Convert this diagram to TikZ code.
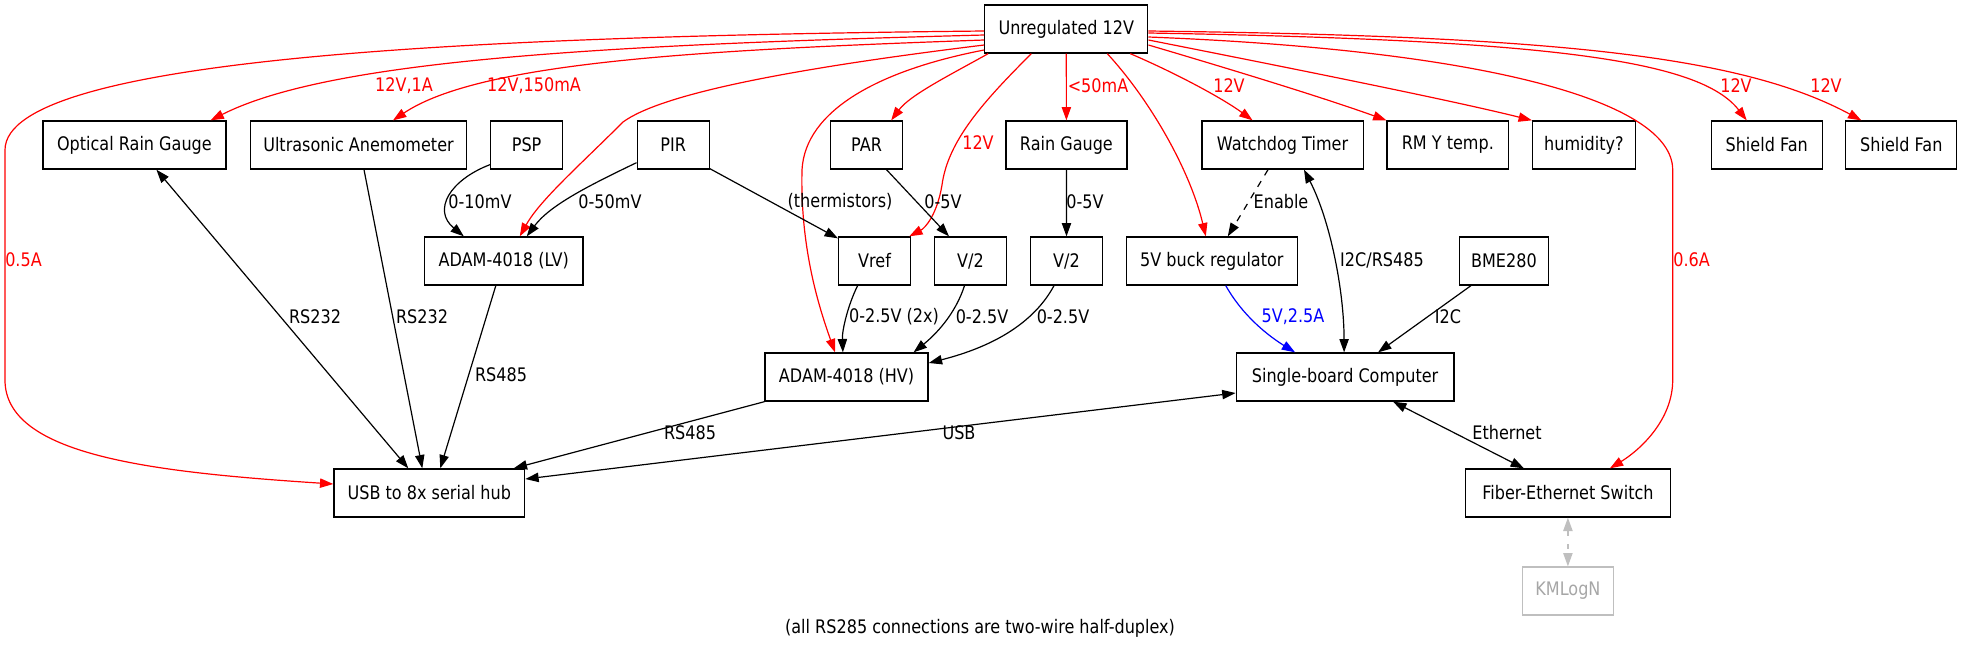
\documentclass[tikz,border=0pt]{standalone}
\usepackage{fontspec}
\setmainfont{DejaVu Sans}[FakeStretch=0.86]
\usetikzlibrary{arrows.meta,calc}
\begin{document}
\begin{tikzpicture}[x=0.75pt,y=-0.75pt,
  every node/.style={font=\fontsize{14pt}{16pt}\selectfont},
  gvbox/.style={draw, line width=1pt, minimum height=36pt, minimum width=#1, inner sep=0pt},
  lbl/.style={inner sep=0pt},
  sig/.style={line width=0.9pt, -{Triangle[length=10pt,width=7pt]}},
  bisig/.style={line width=0.9pt, {Triangle[length=10pt,width=7pt]}-{Triangle[length=10pt,width=7pt]}},
  pwr/.style={sig, red},
  dsh/.style={dash pattern=on 5pt off 5pt}]
\useasboundingbox (0,0) rectangle (1962,651);
% nodes
\node[gvbox=122.25pt] (unreg) at (1066.3,29) {Unregulated 12V};
\node[gvbox=137.25pt] (org) at (134.4,145) {Optical Rain Gauge};
\node[gvbox=162pt] (ua) at (358.5,145) {Ultrasonic Anemometer};
\node[gvbox=54pt] (psp) at (526.6,145) {PSP};
\node[gvbox=54pt] (pir) at (673.2,145) {PIR};
\node[gvbox=54pt] (par) at (866.5,145) {PAR};
\node[gvbox=90.75pt] (rg) at (1066.4,145) {Rain Gauge};
\node[gvbox=121pt] (wdt) at (1282.5,145) {Watchdog Timer};
\node[gvbox=91pt] (rmy) at (1447.8,145) {RM Y temp.};
\node[gvbox=77pt] (hum) at (1583.9,145) {humidity?};
\node[gvbox=83.25pt] (sfa) at (1766.7,145) {Shield Fan};
\node[gvbox=83.25pt] (sfb) at (1901.3,145) {Shield Fan};
\node[gvbox=118.8pt] (adamlv) at (503.8,261) {ADAM-4018 (LV)};
\node[gvbox=54pt] (vref) at (874.6,261) {Vref};
\node[gvbox=54pt] (vha) at (970.5,261) {V/2};
\node[gvbox=54pt] (vhb) at (1066.5,261) {V/2};
\node[gvbox=128.25pt] (buck) at (1211.8,261) {5V buck regulator};
\node[gvbox=67pt] (bme) at (1503.9,261) {BME280};
\node[gvbox=122.25pt] (adamhv) at (846.6,377) {ADAM-4018 (HV)};
\node[gvbox=163.35pt] (sbc) at (1345.1,377) {Single-board Computer};
\node[gvbox=143pt] (usb) at (429.3,493) {USB to 8x serial hub};
\node[gvbox=153.5pt] (fes) at (1567.9,493) {Fiber-Ethernet Switch};
\node[gvbox=68pt, draw=black!25, text=black!35] (kml) at (1567.9,591) {KMLogN};
\node[lbl] (note) at (980,628) {(all RS285 connections are two-wire half-duplex)};
% power edges
\draw[pwr] ($(unreg.west)+(0,2)$) .. controls (500,36) and (5,55) .. (5,150) -- (5,380) .. controls (5,455) and (150,472) .. ($(usb.west)+(0,-9)$);
\draw[pwr] ($(unreg.west)+(0,6)$) .. controls (600,45) and (330,60) .. ($(org.north east)+(-16,0)$);
\draw[pwr] ($(unreg.west)+(0,11)$) .. controls (700,50) and (480,62) .. ($(ua.north)+(34.5,0)$);
\draw[pwr] ($(unreg.west)+(0,16)$) .. controls (780,70) and (660,95) .. (623,122) .. controls (580,165) and (540,200) .. ($(adamlv.north)+(16,0)$);
\draw[pwr] ($(unreg.south west)+(4,0)$) .. controls (950,75) and (910,95) .. ($(par.north east)+(-12,0)$);
\draw[pwr] ($(unreg.west)+(0,21)$) .. controls (880,70) and (805,110) .. (802,170) .. controls (800,250) and (820,310) .. ($(adamhv.north)+(-11.6,0)$);
\draw[pwr] ($(unreg.south)+(-35,0)$) .. controls (985,100) and (948,140) .. (942,185) .. controls (937,215) and (925,228) .. ($(vref.north east)+(-2,0)$);
\draw[pwr] (unreg.south) -- (rg.north);
\draw[pwr] ($(unreg.south)+(41,0)$) .. controls (1150,100) and (1190,170) .. ($(buck.north)+(-6,0)$);
\draw[pwr] ($(unreg.south)+(64,0)$) .. controls (1180,75) and (1225,100) .. ($(wdt.north)+(-30,0)$);
\draw[pwr] ($(unreg.east)+(0,16)$) .. controls (1250,75) and (1330,100) .. (rmy.north west);
\draw[pwr] ($(unreg.east)+(0,11)$) .. controls (1300,70) and (1450,100) .. (hum.north west);
\draw[pwr] ($(unreg.east)+(0,8)$) .. controls (1480,50) and (1672.7,100) .. (1672.7,170) -- (1672.7,380) .. controls (1672.7,420) and (1640,450) .. ($(fes.north)+(42,0)$);
\draw[pwr] ($(unreg.east)+(0,4)$) .. controls (1550,40) and (1700,60) .. ($(sfa.north)+(-20,0)$);
\draw[pwr] ($(unreg.east)+(0,2)$) .. controls (1550,36) and (1740,55) .. ($(sfb.north)+(-40,0)$);
% signal edges
\draw[bisig] ($(org.south)+(22,0)$) -- ($(usb.north)+(-21,0)$);
\draw[sig] ($(ua.south)+(5.5,0)$) -- ($(usb.north)+(-7,0)$);
\draw[sig] ($(adamlv.south)+(-8,0)$) -- ($(usb.north)+(11,0)$);
\draw[sig] ($(psp.south west)+(0,-5)$) .. controls (450,180) and (432,210) .. ($(adamlv.north)+(-40,0)$);
\draw[sig] ($(pir.south west)+(0,-7)$) .. controls (590,185) and (550,205) .. ($(adamlv.north)+(23,0)$);
\draw[sig] ($(pir.south east)+(0,-1)$) -- ($(vref.north west)+(0,2)$);
\draw[sig] ($(par.south)+(20,0)$) -- ($(vha.north)+(-21.5,0)$);
\draw[sig] (rg.south) -- (vhb.north);
\draw[sig, dsh] ($(wdt.south)+(-14.5,0)$) -- ($(buck.north)+(16,0)$);
\draw[bisig] ($(wdt.south)+(21.5,0)$) .. controls (1330,220) and (1344,290) .. ($(sbc.north)+(-1,0)$);
\draw[sig] ($(bme.south)+(-33,0)$) -- ($(sbc.north)+(33,0)$);
\draw[sig, blue] ($(buck.south)+(14,0)$) .. controls (1245,320) and (1275,340) .. ($(sbc.north)+(-50,0)$);
\draw[sig] ($(vref.south)+(-17,0)$) .. controls (848,305) and (842,330) .. ($(adamhv.north)+(-3.7,0)$);
\draw[sig] ($(vha.south)+(-6,0)$) .. controls (955,315) and (935,335) .. ($(adamhv.north)+(67,0)$);
\draw[sig] ($(vhb.south)+(-12.5,0)$) .. controls (1030,330) and (980,350) .. ($(adamhv.east)+(0,-14)$);
\draw[sig] (adamhv.south west) -- ($(usb.north east)+(-11.6,0)$);
\draw[bisig] ($(usb.east)+(0,-14)$) -- ($(sbc.west)+(0,16)$);
\draw[bisig] ($(sbc.south)+(48,0)$) -- ($(fes.north)+(-44,0)$);
\draw[bisig, black!25, dash pattern=on 4pt off 6pt] (fes.south) -- (kml.north);
% labels
\node[lbl, red, anchor=west] (l1) at (5,260) {0.5A};
\node[lbl, red] (l2) at (404,86) {12V,1A};
\node[lbl, red] (l3) at (534,86) {12V,150mA};
\node[lbl, red] (l4) at (978,143) {12V};
\node[lbl, red] (l5) at (1098,86) {<50mA};
\node[lbl, red] (l6) at (1229,86) {12V};
\node[lbl, red, anchor=west] (l7) at (1673,260) {0.6A};
\node[lbl, red] (l8) at (1736,86) {12V};
\node[lbl, red] (l9) at (1826,86) {12V};
\node[lbl] (m1) at (315,317) {RS232};
\node[lbl] (m2) at (422,317) {RS232};
\node[lbl] (m3) at (501,375) {RS485};
\node[lbl] (m4) at (480,202) {0-10mV};
\node[lbl] (m5) at (610,202) {0-50mV};
\node[lbl] (m6) at (840,202) {(thermistors)};
\node[lbl] (m7) at (943,202) {0-5V};
\node[lbl] (m8) at (1085,202) {0-5V};
\node[lbl] (m9) at (1281,202) {Enable};
\node[lbl] (m10) at (1382,260) {I2C/RS485};
\node[lbl] (m11) at (1448,317) {I2C};
\node[lbl, blue] (m12) at (1293,317) {5V,2.5A};
\node[lbl] (m13) at (894,317) {0-2.5V (2x)};
\node[lbl] (m14) at (982,317) {0-2.5V};
\node[lbl] (m15) at (1063,317) {0-2.5V};
\node[lbl] (m16) at (690,433) {RS485};
\node[lbl] (m17) at (959,433) {USB};
\node[lbl] (m18) at (1507,433) {Ethernet};
\end{tikzpicture}
\end{document}
